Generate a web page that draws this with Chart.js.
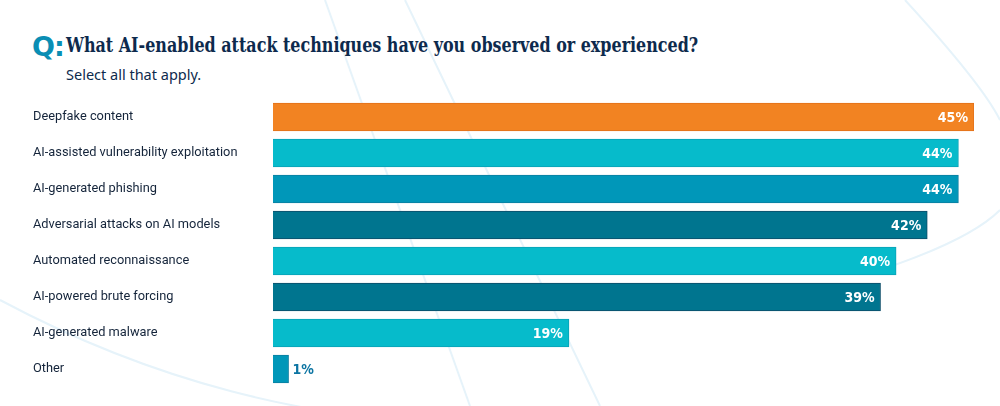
<!DOCTYPE html>
<html>
<head>
<meta charset="utf-8">
<script src="https://cdn.jsdelivr.net/npm/chart.js@4"></script>
<style>
    html, body { margin: 0; padding: 0; background: #ffffff; }
    #wrap { position: relative; width: 1000px; height: 406px; overflow: hidden; }
    #bg { position: absolute; left: 0; top: 0; }
    #q { position: absolute; left: 32px; top: 31px; color: #0a8eb4;
         font-family: "DejaVu Sans", sans-serif; font-weight: bold; font-size: 27px; letter-spacing: -1px; }
    #title { position: absolute; left: 66px; top: 33px; white-space: nowrap; color: #0d2a4d;
             font-family: "DejaVu Serif Condensed", "DejaVu Serif", serif; font-weight: bold; font-size: 20px;
             transform-origin: 0 0; transform: scaleX(0.886); }
    #subtitle { position: absolute; left: 66px; top: 64px; color: #0d2a4d;
                font-family: "Noto Sans", sans-serif; font-size: 14.5px; }
    #chart { position: absolute; left: 0; top: 0; }
</style>
</head>
<body>
<div id="wrap">
    <svg id="bg" width="1000" height="406">
        <g fill="none" stroke="#e6f3fa" stroke-width="2">
            <path d="M325 0 L470 406"/>
            <path d="M405 0 L600 406"/>
            <path d="M905 0 C960 60 990 100 1000 120"/>
            <path d="M0 300 C150 380 300 420 500 430"/>
            <path d="M880 270 C940 250 980 230 1000 210"/>
        </g>
    </svg>
    <div id="q">Q:</div>
    <div id="title">What AI-enabled attack techniques have you observed or experienced?</div>
    <div id="subtitle">Select all that apply.</div>
    <canvas id="chart" width="1000" height="406"></canvas>
</div>
<script>
// Veriler
const categories = [
    'Deepfake content',
    'AI-assisted vulnerability exploitation',
    'AI-generated phishing',
    'Adversarial attacks on AI models',
    'Automated reconnaissance',
    'AI-powered brute forcing',
    'AI-generated malware',
    'Other'
];
const percentValues = [45, 44, 44, 42, 40, 39, 19, 1];
const barColors = ['#f28322', '#06bbcb', '#0097b9', '#00758f', '#06bbcb', '#00758f', '#06bbcb', '#0097b9'];
const barBorders = ['#e2701a', '#0aa2b6', '#0b7ea0', '#0c4c68', '#0aa2b6', '#0c4c68', '#0aa2b6', '#0b7ea0'];

// Yüzde etiketleri
const valueLabels = {
    id: 'valueLabels',
    afterDatasetsDraw(chart) {
        const ctx = chart.ctx;
        const meta = chart.getDatasetMeta(0);
        ctx.save();
        ctx.font = 'bold 14px "DejaVu Sans Condensed", "DejaVu Sans", sans-serif';
        ctx.textBaseline = 'middle';
        meta.data.forEach((bar, i) => {
            const text = percentValues[i] + '%';
            const w = ctx.measureText(text).width;
            if (bar.x - bar.base > w + 12) {
                ctx.fillStyle = '#ffffff';
                ctx.textAlign = 'right';
                ctx.fillText(text, bar.x - 6, bar.y + 1);
            } else {
                ctx.fillStyle = '#0b74a2';
                ctx.textAlign = 'left';
                ctx.fillText(text, bar.x + 4, bar.y + 1);
            }
        });
        ctx.restore();
    }
};

const chart = new Chart(document.getElementById('chart'), {
    type: 'bar',
    data: {
        labels: categories,
        datasets: [{
            data: percentValues,
            backgroundColor: barColors,
            borderColor: barBorders,
            borderWidth: 1,
            barThickness: 28
        }]
    },
    options: {
        indexAxis: 'y',
        responsive: false,
        animation: false,
        layout: { padding: { left: 33, right: 26, top: 99, bottom: 19 } },
        plugins: { legend: { display: false }, tooltip: { enabled: false } },
        scales: {
            x: { display: false, min: 0, max: 45 },
            y: {
                grid: { display: false },
                border: { display: false },
                afterFit(scale) { scale.width = 240; },
                ticks: {
                    crossAlign: 'far',
                    color: '#14243a',
                    font: { family: 'Roboto', size: 12.8 }
                }
            }
        }
    },
    plugins: [valueLabels]
});
</script>
</body>
</html>
